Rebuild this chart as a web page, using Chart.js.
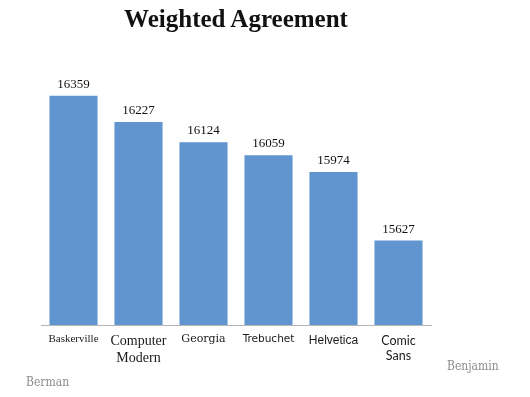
<!DOCTYPE html>
<html>
<head>
<meta charset="utf-8">
<script src="https://cdn.jsdelivr.net/npm/chart.js@4.4.1/dist/chart.umd.min.js"></script>
<style>
  html, body { margin: 0; padding: 0; background: #fff; }
  #wrap { position: relative; width: 530px; height: 397px; }
  #title { position: absolute; left: 41px; width: 390px; top: 5px; text-align: center;
           font: bold 25px "Liberation Serif", "DejaVu Serif", serif; color: #111; }
  .sig { position: absolute; font: 12px "DejaVu Serif Condensed", "DejaVu Serif", serif; color: #8c8c8c; }
</style>
</head>
<body>
<div id="wrap">
  <canvas id="c" width="530" height="397"></canvas>
  <div id="title">Weighted Agreement</div>
  <div class="sig" style="left:447px; top:359px;">Benjamin</div>
  <div class="sig" style="left:26px; top:375px;">Berman</div>
</div>
<script>
const categories = ['Baskerville', ['Computer', 'Modern'], 'Georgia', 'Trebuchet', 'Helvetica', ['Comic', 'Sans']];
const values = [16359, 16227, 16124, 16059, 15974, 15627];
const yMin = 15200;
const yMax = 16500;

const tickFonts = [
  { family: '"Liberation Serif", serif', size: 11 },
  { family: '"Liberation Serif", serif', size: 14 },
  { family: '"DejaVu Serif", serif', size: 11 },
  { family: '"DejaVu Sans", sans-serif', size: 10.5 },
  { family: '"Liberation Sans", sans-serif', size: 12 },
  { family: '"Comic Sans MS", "Lato", sans-serif', size: 12.5 }
];

const valueLabels = {
  id: 'valueLabels',
  afterDatasetsDraw(chart) {
    const ctx = chart.ctx;
    const meta = chart.getDatasetMeta(0);
    ctx.save();
    ctx.font = '13px "Liberation Serif", serif';
    ctx.fillStyle = '#111';
    ctx.textAlign = 'center';
    ctx.textBaseline = 'bottom';
    meta.data.forEach((bar, i) => {
      ctx.fillText(String(chart.data.datasets[0].data[i]), bar.x, bar.y - 5);
    });
    ctx.restore();
  }
};

new Chart(document.getElementById('c'), {
  type: 'bar',
  data: {
    labels: categories,
    datasets: [{
      data: values,
      backgroundColor: '#6195cf',
      borderWidth: 0,
      categoryPercentage: 1,
      barPercentage: 0.74
    }]
  },
  options: {
    responsive: false,
    animation: false,
    layout: { padding: { left: 41, right: 99, top: 68, bottom: 0 } },
    plugins: { legend: { display: false }, tooltip: { enabled: false } },
    scales: {
      y: { display: false, min: yMin, max: yMax },
      x: {
        grid: { display: false, drawTicks: false },
        border: { display: true, color: '#b5b5b5', width: 1 },
        ticks: {
          color: '#1a1a1a',
          padding: 8,
          maxRotation: 0,
          autoSkip: false,
          font: (ctx) => tickFonts[ctx.index]
        },
        afterFit: (scale) => { scale.height = 72; }
      }
    }
  },
  plugins: [valueLabels]
});
</script>
</body>
</html>
